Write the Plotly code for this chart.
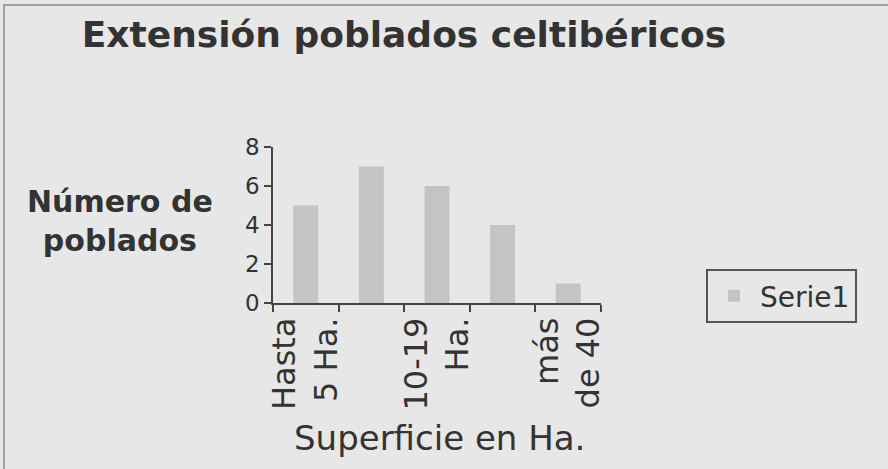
import plotly.graph_objects as go

# ---- data ----
categories = ["Hasta 5 Ha.", "5-9 Ha.", "10-19 Ha.", "20-39 Ha.", "más de 40"]
tick_labels = ["Hasta<br>5 Ha.", "", "10-19<br>Ha.", "", "más<br>de 40"]
values = [5, 7, 6, 4, 1]
series_name = "Serie1"
y_ticks = [0, 2, 4, 6, 8]

title_text = "Extensión poblados celtibéricos"
y_title = "Número de<br>poblados"
x_title = "Superficie en Ha."

BG = "#e7e7e7"
TXT = "#333333"
AX = "#444444"
FONT = "DejaVu Sans"

fig = go.Figure()
fig.add_trace(go.Bar(
    x=categories, y=values, name=series_name,
    marker=dict(color="#c4c4c4", line=dict(width=0)),
    showlegend=True,
))

W, H = 888, 469
L, R, T, B = 273, 287, 147, 166
PW, PH = W - L - R, H - T - B

def px_x(x):
    return (x - L) / PW

def px_y(y):
    return (H - B - y) / PH

fig.update_layout(
    width=W, height=H,
    margin=dict(l=L, r=R, t=T, b=B, autoexpand=False),
    paper_bgcolor=BG, plot_bgcolor=BG,
    font=dict(family=FONT, color=TXT),
    bargap=0.62,
    title=dict(text=title_text, x=404 / W, xref="container", xanchor="center",
               y=1 - 34 / H, yref="container", yanchor="middle",
               font=dict(family=FONT, size=36, color=TXT, weight="bold")),
    xaxis=dict(
        type="category", range=[-0.5, 4.5],
        tickmode="array", tickvals=categories, ticktext=tick_labels,
        tickson="boundaries", ticks="outside", ticklen=7, tickwidth=1.5, tickcolor=AX,
        tickangle=-90, tickfont=dict(family=FONT, size=32, color=TXT),
        showline=True, linecolor=AX, linewidth=1.5, showgrid=False, zeroline=False,
        automargin=False,
    ),
    yaxis=dict(
        range=[0, 8], tickmode="array", tickvals=y_ticks,
        ticks="outside", ticklen=7, tickwidth=1.5, tickcolor=AX,
        tickfont=dict(family=FONT, size=23, color=TXT),
        showline=True, linecolor=AX, linewidth=1.5, showgrid=False, zeroline=False,
        automargin=False,
    ),
    legend=dict(x=px_x(706), y=px_y(269), xanchor="left", yanchor="top",
                bgcolor=BG, bordercolor="#555555", borderwidth=2, itemwidth=42,
                font=dict(family=FONT, size=28, color=TXT)),
    annotations=[
        dict(text=y_title, xref="paper", yref="paper", x=px_x(120), y=px_y(221),
             xanchor="center", yanchor="middle", showarrow=False, align="center",
             font=dict(family=FONT, size=30, color=TXT, weight="bold")),
        dict(text=x_title, xref="paper", yref="paper", x=px_x(439), y=px_y(438),
             xanchor="center", yanchor="middle", showarrow=False,
             font=dict(family=FONT, size=34, color=TXT)),
    ],
    shapes=[
        dict(type="rect", xref="paper", yref="paper",
             x0=px_x(4), x1=px_x(900), y0=px_y(480), y1=px_y(5),
             line=dict(color="#8a8a8a", width=1.5), fillcolor="rgba(0,0,0,0)", layer="below"),
    ],
)

fig.write_html("out.html",
               config={"displayModeBar": False},
               post_script="document.body.style.margin='0';document.body.style.background='#e7e7e7';")
